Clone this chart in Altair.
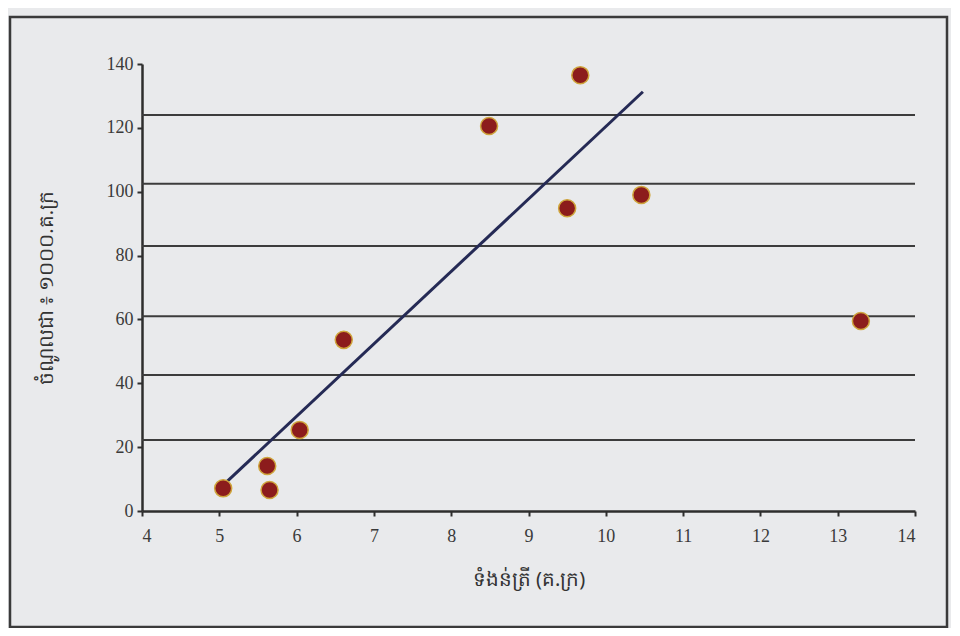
import altair as alt
import pandas as pd

# data
weight = [5.05, 5.62, 5.65, 6.04, 6.61, 8.49, 9.67, 9.50, 10.46, 13.30]
value = [7.1, 14.1, 6.6, 25.4, 53.6, 120.6, 136.5, 94.8, 99.0, 59.5]
fit_x = [5.05, 10.48]
fit_y = [8.1, 131.3]
x_ticks = list(range(4, 15))
y_ticks = list(range(0, 141, 20))
ruled_lines = [124, 102.5, 83, 61, 42.6, 22.2]

x_title = "ទំងន់ត្រី (គ.ក្រ)"
y_title = "ចំណូលជា ៖ ១០០០.គ.ក្រ"

pts = pd.DataFrame({"x": weight, "y": value})
fit = pd.DataFrame({"x": fit_x, "y": fit_y})
lines = pd.DataFrame({"y": ruled_lines})

W, H = 773, 447
xs = alt.Scale(domain=[4, 14], nice=False, zero=False)
ys = alt.Scale(domain=[0, 140], nice=False)

frame = alt.Chart(pd.DataFrame({"a": [0]})).mark_rect(
    fill=None, stroke="#3a3a3a", strokeWidth=2.5, clip=False
).encode(
    x=alt.value(-132), x2=alt.value(805), y=alt.value(-47), y2=alt.value(563)
)

rules = alt.Chart(lines).mark_rule(color="#3c3c3c", strokeWidth=2).encode(
    y=alt.Y("y:Q", scale=ys), x=alt.value(0), x2=alt.value(W)
)

fitline = alt.Chart(fit).mark_line(color="#252a55", strokeWidth=3).encode(
    x=alt.X("x:Q", scale=xs,
            axis=alt.Axis(values=x_ticks, title=x_title, format="d")),
    y=alt.Y("y:Q", scale=ys,
            axis=alt.Axis(values=y_ticks, title=y_title, format="d")),
)

points = alt.Chart(pts).mark_point(
    filled=True, size=290, fill="#8c1c1c", stroke="#cfa53c",
    strokeWidth=1.5, opacity=1
).encode(x=alt.X("x:Q", scale=xs), y=alt.Y("y:Q", scale=ys))

chart = alt.layer(frame, rules, fitline, points).properties(
    width=W, height=H,
    autosize=alt.AutoSizeParams(type="none"),
    padding={"left": 134, "top": 56, "right": 36, "bottom": 117},
    background="#e9eaec",
).configure_view(stroke=None).configure_axis(
    grid=False,
    domainColor="#2e2e2e", domainWidth=2.5,
    tickColor="#2e2e2e", tickWidth=2, tickSize=5,
    labelFont="Liberation Serif", labelFontSize=18, labelColor="#3a3a3a",
    titleFont="Noto Sans", titleFontSize=20, titleFontWeight="normal",
    titleColor="#333333",
).configure_axisY(
    labelPadding=4, titlePadding=50,
).configure_axisX(
    labelPadding=11, titlePadding=24,
)

chart.save("out.html", embed_options={"renderer": "svg", "actions": False})
